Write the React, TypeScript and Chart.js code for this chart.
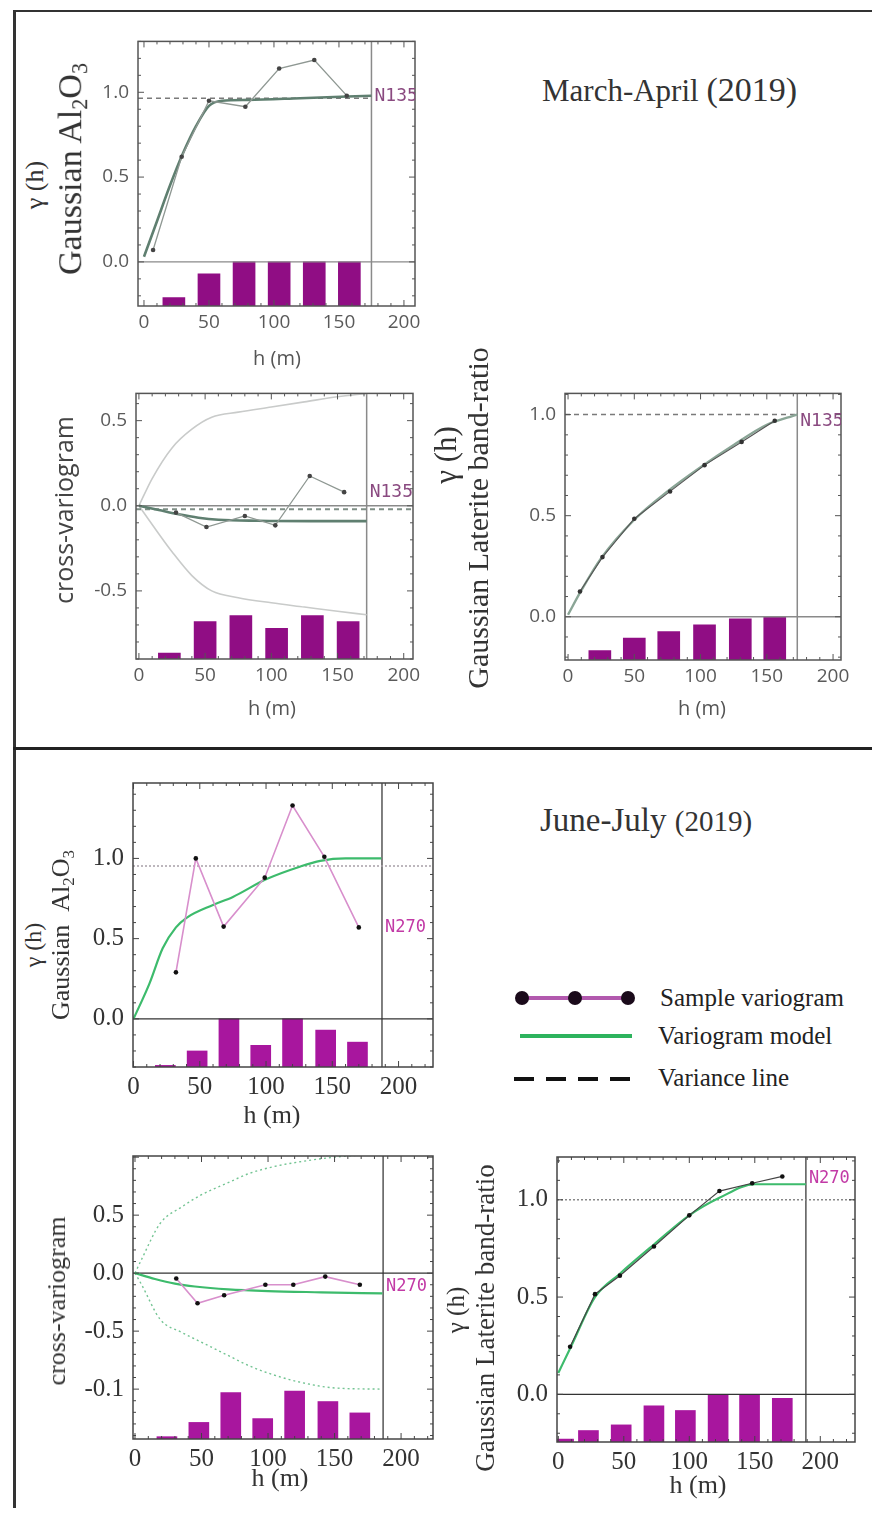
import React, { useEffect, useRef } from "react";
import { Chart, registerables } from "chart.js";
Chart.register(...registerables);

// ---------------- DATA ----------------
const X_TICKS = [0, 50, 100, 150, 200];
const Y_TICKS_STD = [0, 0.5, 1.0];
const Y_TICKS_CROSS_MA = [-0.5, 0, 0.5];
const Y_TICKS_CROSS_JJ = [-1, -0.5, 0, 0.5];
const Y_TICK_LABELS_CROSS_JJ = ["-0.1", "-0.5", "0.0", "0.5"];

const LABEL_MA = "N135";
const LABEL_JJ = "N270";

// March-April, Gaussian Al2O3
const MA_AL_LAG = [7, 29, 50, 78, 104, 131, 156];
const MA_AL_GAMMA = [0.07, 0.62, 0.95, 0.915, 1.14, 1.19, 0.98];
const MA_AL_MODEL_H = [0, 10, 20, 30, 40, 50, 60, 80, 120, 175];
const MA_AL_MODEL_G = [0.03, 0.24, 0.45, 0.64, 0.8, 0.92, 0.95, 0.955, 0.965, 0.98];
const MA_AL_SILL = 0.965;
const MA_AL_BAR_H = [23, 50, 77, 104, 131, 158];
const MA_AL_BAR_TOP = [-0.21, -0.07, 0, 0, 0, 0];
const MA_AL_MAXLAG = 175;

// March-April, cross-variogram
const MA_CR_LAG = [28, 51, 80, 103, 129, 155];
const MA_CR_GAMMA = [-0.04, -0.125, -0.06, -0.115, 0.175, 0.08];
const MA_CR_MODEL_H = [0, 15, 30, 45, 60, 90, 130, 172];
const MA_CR_MODEL_G = [0, -0.025, -0.05, -0.07, -0.082, -0.088, -0.09, -0.09];
const MA_CR_SILL = -0.02;
const MA_CR_ENV_H = [0, 10, 25, 40, 55, 75, 100, 125, 150, 172];
const MA_CR_ENV_UP = [0, 0.16, 0.34, 0.45, 0.52, 0.55, 0.58, 0.61, 0.64, 0.66];
const MA_CR_ENV_LO = [0, -0.11, -0.27, -0.41, -0.5, -0.54, -0.57, -0.595, -0.62, -0.64];
const MA_CR_BAR_H = [23, 50, 77, 104, 131, 158];
const MA_CR_BAR_TOP = [-0.865, -0.68, -0.645, -0.72, -0.645, -0.68];
const MA_CR_MAXLAG = 172;

// March-April, Gaussian Laterite band-ratio
const MA_LT_LAG = [9, 26, 50, 77, 103, 131, 156];
const MA_LT_GAMMA = [0.125, 0.295, 0.485, 0.62, 0.75, 0.865, 0.97];
const MA_LT_MODEL_H = [0, 10, 25, 50, 75, 100, 125, 150, 173];
const MA_LT_MODEL_G = [0.01, 0.13, 0.29, 0.48, 0.62, 0.74, 0.85, 0.95, 1.0];
const MA_LT_SILL = 1.0;
const MA_LT_BAR_H = [24, 50, 76, 103, 130, 156];
const MA_LT_BAR_TOP = [-0.167, -0.105, -0.074, -0.04, -0.01, 0];
const MA_LT_MAXLAG = 173;

// June-July, Gaussian Al2O3
const JJ_AL_LAG = [32, 47, 68, 99, 120, 144, 170];
const JJ_AL_GAMMA = [0.29, 1.0, 0.575, 0.88, 1.33, 1.01, 0.57];
const JJ_AL_MODEL_H = [0, 12, 22, 32, 40, 60, 75, 100, 126, 141, 160, 187];
const JJ_AL_MODEL_G = [0, 0.22, 0.44, 0.57, 0.63, 0.71, 0.76, 0.87, 0.95, 0.985, 1.0, 1.0];
const JJ_AL_SILL = 0.953;
const JJ_AL_BAR_H = [24, 48, 72, 96, 120, 145, 169];
const JJ_AL_BAR_TOP = [-0.29, -0.2, 0, -0.165, 0, -0.07, -0.145];
const JJ_AL_MAXLAG = 187.5;

// June-July, cross-variogram
const JJ_CR_LAG = [31, 47, 67, 98, 119, 143, 169];
const JJ_CR_GAMMA = [-0.046, -0.26, -0.19, -0.1, -0.1, -0.03, -0.1];
const JJ_CR_MODEL_H = [0, 15, 30, 45, 70, 100, 140, 186];
const JJ_CR_MODEL_G = [0, -0.05, -0.09, -0.115, -0.14, -0.155, -0.165, -0.175];
const JJ_CR_ENV_H = [0, 5, 19, 35, 49, 70, 86, 105, 124, 150, 186];
const JJ_CR_ENV_UP = [0, 0.12, 0.43, 0.57, 0.67, 0.78, 0.86, 0.92, 0.96, 1.0, 1.03];
const JJ_CR_ENV_LO = [0, -0.1, -0.4, -0.51, -0.59, -0.71, -0.8, -0.88, -0.94, -0.99, -1.0];
const JJ_CR_BAR_H = [24, 48, 72, 96, 120, 145, 169];
const JJ_CR_BAR_TOP = [-1.41, -1.287, -1.03, -1.254, -1.016, -1.107, -1.205];
const JJ_CR_MAXLAG = 186.5;

// June-July, Gaussian Laterite band-ratio
const JJ_LT_LAG = [9, 28, 47, 73, 100, 123, 148, 171];
const JJ_LT_GAMMA = [0.245, 0.515, 0.61, 0.76, 0.92, 1.045, 1.085, 1.12];
const JJ_LT_MODEL_H = [0, 10, 28, 47, 73, 100, 123, 150, 189];
const JJ_LT_MODEL_G = [0.11, 0.25, 0.5, 0.62, 0.77, 0.92, 1.01, 1.08, 1.08];
const JJ_LT_SILL = 1.0;
const JJ_LT_BAR_H = [4, 23, 48, 73, 97, 122, 146, 171];
const JJ_LT_BAR_TOP = [-0.23, -0.186, -0.157, -0.059, -0.083, 0, 0, -0.02];
const JJ_LT_MAXLAG = 189;

// ---------------- STYLE ----------------
const SERIF = '"Liberation Serif", "DejaVu Serif", serif';
const SANS = '"Open Sans", "Noto Sans", sans-serif';
const MONO = '"DejaVu Sans Mono", "Liberation Mono", monospace';

interface LineSpec {
  xs: number[];
  ys: number[];
  color: string;
  width: number;
  dash?: number[];
  points?: boolean;
  pointColor?: string;
  smooth?: boolean;
  order: number;
}

interface PanelSpec {
  left: number;
  top: number;
  width: number;
  height: number;
  xMin: number;
  xMax: number;
  yMin: number;
  yMax: number;
  yTicks: number[];
  yTickLabels?: string[];
  tickFont: { family: string; size: number };
  tickColor: string;
  xTickPad: number;
  barX: number[];
  barTop: number[];
  barColor: string;
  barWidth: number;
  lines: LineSpec[];
  lag: number;
  lagColor: string;
  zeroColor: string;
  frameColor: string;
  label: string;
  labelY: number;
  labelColor: string;
  labelSize: number;
  yMinorStep: number;
}

const ML = 70,
  MR = 36,
  MT = 10,
  MB = 40;

function framePlugin(s: PanelSpec) {
  return {
    id: "frame",
    afterDatasetsDraw(chart: any) {
      const { ctx, chartArea: a, scales } = chart;
      const x = scales.x;
      const y = scales.y;
      ctx.save();
      ctx.strokeStyle = s.frameColor;
      ctx.lineWidth = 1.5;
      ctx.strokeRect(a.left, a.top, a.right - a.left, a.bottom - a.top);
      ctx.lineWidth = 1;
      const seg = (x1: number, y1: number, x2: number, y2: number) => {
        ctx.beginPath();
        ctx.moveTo(x1, y1);
        ctx.lineTo(x2, y2);
        ctx.stroke();
      };
      const x0 = Math.ceil(s.xMin / 10);
      const x1 = Math.floor(s.xMax / 10);
      for (let k = x0; k <= x1; k++) {
        const v = k * 10;
        const px = x.getPixelForValue(v);
        const len = v % 50 === 0 ? 6 : 3;
        seg(px, a.bottom, px, a.bottom - len);
        seg(px, a.top, px, a.top + len);
      }
      const y0 = Math.ceil(s.yMin / s.yMinorStep - 1e-6);
      const y1 = Math.floor(s.yMax / s.yMinorStep + 1e-6);
      for (let k = y0; k <= y1; k++) {
        const v = k * s.yMinorStep;
        const py = y.getPixelForValue(v);
        const major = Math.abs(v * 2 - Math.round(v * 2)) < 1e-6;
        const len = major ? 6 : 3;
        seg(a.left, py, a.left + len, py);
        seg(a.right, py, a.right - len, py);
      }
      ctx.beginPath();
      ctx.rect(a.left, a.top, a.right - a.left, a.bottom - a.top);
      ctx.clip();
      ctx.fillStyle = s.labelColor;
      ctx.font = `${s.labelSize}px ${MONO}`;
      ctx.textBaseline = "middle";
      ctx.textAlign = "left";
      ctx.fillText(s.label, x.getPixelForValue(s.lag) + 3, y.getPixelForValue(s.labelY));
      ctx.restore();
    },
  };
}

function Panel({ spec }: { spec: PanelSpec }) {
  const ref = useRef<HTMLCanvasElement>(null);
  const W = spec.width + ML + MR;
  const H = spec.height + MT + MB;
  useEffect(() => {
    const s = spec;
    const datasets: any[] = [];
    datasets.push({
      type: "bar",
      data: s.barX.map((x, i) => ({ x, y: [s.yMin, s.barTop[i]] })),
      backgroundColor: s.barColor,
      borderWidth: 0,
      barThickness: s.barWidth,
      order: 10,
    });
    datasets.push({
      type: "line",
      data: [
        { x: s.xMin, y: 0 },
        { x: s.xMax, y: 0 },
      ],
      borderColor: s.zeroColor,
      borderWidth: 1.3,
      pointRadius: 0,
      order: 9,
    });
    datasets.push({
      type: "line",
      data: [
        { x: s.lag, y: s.yMin },
        { x: s.lag, y: s.yMax },
      ],
      borderColor: s.lagColor,
      borderWidth: 1.5,
      pointRadius: 0,
      order: 9,
    });
    s.lines.forEach((l) =>
      datasets.push({
        type: "line",
        data: l.xs.map((x, i) => ({ x, y: l.ys[i] })),
        borderColor: l.color,
        borderWidth: l.width,
        borderDash: l.dash || [],
        pointRadius: l.points ? 2.3 : 0,
        pointBackgroundColor: l.pointColor || "#000",
        pointBorderWidth: 0,
        cubicInterpolationMode: l.smooth ? "monotone" : "default",
        tension: 0,
        order: l.order,
      })
    );
    const chart = new Chart(ref.current as HTMLCanvasElement, {
      type: "line",
      data: { datasets },
      options: {
        animation: false,
        responsive: false,
        maintainAspectRatio: false,
        devicePixelRatio: 1,
        layout: { padding: { left: 0, top: MT, right: MR, bottom: 0 } },
        plugins: { legend: { display: false }, tooltip: { enabled: false } },
        scales: {
          x: {
            type: "linear",
            min: s.xMin,
            max: s.xMax,
            offset: false,
            grid: { display: false, drawTicks: false },
            border: { display: false },
            afterBuildTicks: (sc: any) => {
              sc.ticks = X_TICKS.map((v) => ({ value: v }));
            },
            afterFit: (sc: any) => {
              sc.height = MB;
            },
            ticks: {
              font: s.tickFont,
              color: s.tickColor,
              padding: s.xTickPad,
              maxRotation: 0,
              autoSkip: false,
              callback: (v: any) => String(v),
            },
          },
          y: {
            type: "linear",
            min: s.yMin,
            max: s.yMax,
            grid: { display: false, drawTicks: false },
            border: { display: false },
            afterBuildTicks: (sc: any) => {
              sc.ticks = s.yTicks.map((v) => ({ value: v }));
            },
            afterFit: (sc: any) => {
              sc.width = ML;
            },
            ticks: {
              font: s.tickFont,
              color: s.tickColor,
              padding: 9,
              autoSkip: false,
              callback: (v: any, i: number) =>
                s.yTickLabels ? s.yTickLabels[i] : Number(v).toFixed(1),
            },
          },
        },
      } as any,
      plugins: [framePlugin(s)],
    });
    return () => chart.destroy();
  }, [spec]);
  return (
    <canvas
      ref={ref}
      width={W}
      height={H}
      style={{ position: "absolute", left: spec.left - ML, top: spec.top - MT, width: W, height: H }}
    />
  );
}

// ------------- panel specs built from the data -------------
const TOP_TICK_FONT = { family: SANS, size: 19 };
const BOT_TICK_FONT = { family: SERIF, size: 25 };
const TOP_BAR = "#900d84";
const BOT_BAR = "#a8169e";
const TOP_MODEL = "#5f7f70";
const TOP_SAMPLE = "#8f9893";
const BOT_MODEL = "#3dbb6c";
const BOT_SAMPLE = "#d88fcc";

const topCommon = {
  tickFont: TOP_TICK_FONT,
  tickColor: "#5a5a5a",
  xTickPad: 5,
  barColor: TOP_BAR,
  barWidth: 22,
  lagColor: "#8a8a8a",
  zeroColor: "#8a8a8a",
  frameColor: "#555",
  label: LABEL_MA,
  labelColor: "#8a4a80",
  labelSize: 18,
};
const botCommon = {
  tickFont: BOT_TICK_FONT,
  tickColor: "#333",
  xTickPad: 5,
  barColor: BOT_BAR,
  barWidth: 20,
  lagColor: "#555",
  zeroColor: "#333",
  frameColor: "#444",
  label: LABEL_JJ,
  labelColor: "#c23aa6",
  labelSize: 17,
};

const P1: PanelSpec = {
  ...topCommon,
  left: 138, top: 31, width: 277, height: 275,
  xMin: -4.6, xMax: 208.5, yMin: -0.26, yMax: 1.3,
  yTicks: Y_TICKS_STD, yMinorStep: 0.1,
  barX: MA_AL_BAR_H, barTop: MA_AL_BAR_TOP,
  lag: MA_AL_MAXLAG, labelY: 0.975,
  lines: [
    { xs: [-4.6, MA_AL_MAXLAG], ys: [MA_AL_SILL, MA_AL_SILL], color: "#7a7a7a", width: 1.5, dash: [5, 4], order: 3 },
    { xs: MA_AL_MODEL_H, ys: MA_AL_MODEL_G, color: TOP_MODEL, width: 2.6, smooth: true, order: 2 },
    { xs: MA_AL_LAG, ys: MA_AL_GAMMA, color: TOP_SAMPLE, width: 1.3, points: true, pointColor: "#444", order: 1 },
  ],
};

const P2: PanelSpec = {
  ...topCommon,
  left: 136, top: 383, width: 277, height: 276,
  xMin: -2.2, xMax: 207, yMin: -0.9, yMax: 0.66,
  yTicks: Y_TICKS_CROSS_MA, yMinorStep: 0.1,
  barX: MA_CR_BAR_H, barTop: MA_CR_BAR_TOP,
  lag: MA_CR_MAXLAG, labelY: 0.08,
  lines: [
    { xs: MA_CR_ENV_H, ys: MA_CR_ENV_UP, color: "#c9cbca", width: 1.6, smooth: true, order: 4 },
    { xs: MA_CR_ENV_H, ys: MA_CR_ENV_LO, color: "#c9cbca", width: 1.6, smooth: true, order: 4 },
    { xs: [-2.2, 207], ys: [MA_CR_SILL, MA_CR_SILL], color: "#7f8f86", width: 2, dash: [5, 4], order: 3 },
    { xs: MA_CR_MODEL_H, ys: MA_CR_MODEL_G, color: TOP_MODEL, width: 2.6, smooth: true, order: 2 },
    { xs: MA_CR_LAG, ys: MA_CR_GAMMA, color: TOP_SAMPLE, width: 1.3, points: true, pointColor: "#444", order: 1 },
  ],
};

const P3: PanelSpec = {
  ...topCommon,
  left: 565, top: 383, width: 276, height: 277,
  xMin: -2.3, xMax: 206, yMin: -0.214, yMax: 1.105,
  yTicks: Y_TICKS_STD, yMinorStep: 0.1,
  barX: MA_LT_BAR_H, barTop: MA_LT_BAR_TOP,
  lag: MA_LT_MAXLAG, labelY: 0.967,
  lines: [
    { xs: [-2.3, MA_LT_MAXLAG], ys: [MA_LT_SILL, MA_LT_SILL], color: "#7a7a7a", width: 1.5, dash: [5, 4], order: 3 },
    { xs: MA_LT_MODEL_H, ys: MA_LT_MODEL_G, color: "#8aa596", width: 2.4, smooth: true, order: 2 },
    { xs: MA_LT_LAG, ys: MA_LT_GAMMA, color: "#555", width: 1.1, points: true, pointColor: "#333", order: 1 },
  ],
};

const P4: PanelSpec = {
  ...botCommon,
  left: 133, top: 769, width: 300, height: 298,
  xMin: -0.4, xMax: 226, yMin: -0.3, yMax: 1.47,
  yTicks: Y_TICKS_STD, yMinorStep: 0.1,
  barX: JJ_AL_BAR_H, barTop: JJ_AL_BAR_TOP,
  lag: JJ_AL_MAXLAG, labelY: 0.57,
  lines: [
    { xs: [-0.4, 226], ys: [JJ_AL_SILL, JJ_AL_SILL], color: "#a8a0a8", width: 1.4, dash: [2, 2], order: 3 },
    { xs: JJ_AL_MODEL_H, ys: JJ_AL_MODEL_G, color: BOT_MODEL, width: 2.2, smooth: true, order: 2 },
    { xs: JJ_AL_LAG, ys: JJ_AL_GAMMA, color: BOT_SAMPLE, width: 1.6, points: true, pointColor: "#111", order: 1 },
  ],
};

const P5: PanelSpec = {
  ...botCommon,
  left: 133, top: 1142, width: 300, height: 297,
  xMin: -1.5, xMax: 224, yMin: -1.43, yMax: 1.01,
  yTicks: Y_TICKS_CROSS_JJ, yTickLabels: Y_TICK_LABELS_CROSS_JJ, yMinorStep: 0.1,
  barX: JJ_CR_BAR_H, barTop: JJ_CR_BAR_TOP,
  lag: JJ_CR_MAXLAG, labelY: -0.115,
  lines: [
    { xs: JJ_CR_ENV_H, ys: JJ_CR_ENV_UP, color: "#73c493", width: 1.4, dash: [2, 3], smooth: true, order: 4 },
    { xs: JJ_CR_ENV_H, ys: JJ_CR_ENV_LO, color: "#73c493", width: 1.4, dash: [2, 3], smooth: true, order: 4 },
    { xs: JJ_CR_MODEL_H, ys: JJ_CR_MODEL_G, color: BOT_MODEL, width: 2.2, smooth: true, order: 2 },
    { xs: JJ_CR_LAG, ys: JJ_CR_GAMMA, color: BOT_SAMPLE, width: 1.6, points: true, pointColor: "#111", order: 1 },
  ],
};

const P6: PanelSpec = {
  ...botCommon,
  left: 557, top: 1143, width: 298, height: 299,
  xMin: -1, xMax: 226.5, yMin: -0.245, yMax: 1.22,
  yTicks: Y_TICKS_STD, yMinorStep: 0.1,
  barX: JJ_LT_BAR_H, barTop: JJ_LT_BAR_TOP,
  lag: JJ_LT_MAXLAG, labelY: 1.11,
  lines: [
    { xs: [-1, 226.5], ys: [JJ_LT_SILL, JJ_LT_SILL], color: "#888", width: 1.4, dash: [2, 2], order: 3 },
    { xs: JJ_LT_MODEL_H, ys: JJ_LT_MODEL_G, color: BOT_MODEL, width: 2.2, smooth: true, order: 2 },
    { xs: JJ_LT_LAG, ys: JJ_LT_GAMMA, color: "#444", width: 1.2, points: true, pointColor: "#111", order: 1 },
  ],
};

// ------------- HTML text helpers -------------
function RotText({ cx, cy, size, family, color, children }: any) {
  return (
    <div
      style={{
        position: "absolute",
        left: cx,
        top: cy,
        transform: "translate(-50%, -50%) rotate(-90deg)",
        whiteSpace: "nowrap",
        fontSize: size,
        fontFamily: family,
        color,
        lineHeight: 1,
      }}
    >
      {children}
    </div>
  );
}

function Text({ cx, cy, size, family, color, children, align }: any) {
  return (
    <div
      style={{
        position: "absolute",
        left: cx,
        top: cy,
        transform: align === "left" ? "translate(0, -50%)" : "translate(-50%, -50%)",
        whiteSpace: "nowrap",
        fontSize: size,
        fontFamily: family,
        color,
        lineHeight: 1,
      }}
    >
      {children}
    </div>
  );
}

const subStyle = { fontSize: "0.65em", verticalAlign: "-0.25em" };
const AlO = (
  <>
    Al<span style={subStyle}>2</span>O<span style={subStyle}>3</span>
  </>
);

export default function App() {
  return (
    <div
      style={{
        position: "absolute",
        left: 0,
        top: 0,
        width: 872,
        height: 1513,
        background: "#fff",
        overflow: "hidden",
      }}
    >
      {/* frame */}
      <div style={{ position: "absolute", left: 13, top: 10, width: 859, height: 2, background: "#333" }} />
      <div style={{ position: "absolute", left: 13, top: 10, width: 2.5, height: 1498, background: "#333" }} />
      <div style={{ position: "absolute", left: 13, top: 747, width: 859, height: 3, background: "#222" }} />

      <Panel spec={P1} />
      <Panel spec={P2} />
      <Panel spec={P3} />
      <Panel spec={P4} />
      <Panel spec={P5} />
      <Panel spec={P6} />

      {/* titles */}
      <div style={{ position: "absolute", left: 542, top: 71, whiteSpace: "nowrap", fontFamily: SERIF, color: "#333" }}>
        <span style={{ fontSize: 31 }}>March-April </span>
        <span style={{ fontSize: 34 }}>(2019)</span>
      </div>
      <div style={{ position: "absolute", left: 540, top: 802, whiteSpace: "nowrap", fontFamily: SERIF, color: "#333" }}>
        <span style={{ fontSize: 33 }}>June-July </span>
        <span style={{ fontSize: 29 }}>(2019)</span>
      </div>

      {/* y axis titles */}
      <RotText cx={35} cy={185} size={26} family={SERIF} color="#333">γ (h)</RotText>
      <RotText cx={72} cy={169} size={34} family={SERIF} color="#333">Gaussian {AlO}</RotText>
      <RotText cx={63} cy={510} size={25} family={SANS} color="#444">cross-variogram</RotText>
      <RotText cx={445} cy={455} size={31} family={SERIF} color="#333">γ (h)</RotText>
      <RotText cx={478} cy={518} size={30} family={SERIF} color="#333">Gaussian Laterite band-ratio</RotText>
      <RotText cx={33} cy={945} size={24} family={SERIF} color="#333">γ (h)</RotText>
      <RotText cx={63} cy={935} size={26} family={SERIF} color="#333">Gaussian&nbsp;&nbsp;{AlO}</RotText>
      <RotText cx={57} cy={1301} size={26} family={SERIF} color="#333">cross-variogram</RotText>
      <RotText cx={455} cy={1310} size={25} family={SERIF} color="#333">γ (h)</RotText>
      <RotText cx={485} cy={1318} size={27} family={SERIF} color="#333">Gaussian Laterite band-ratio</RotText>

      {/* x axis titles */}
      <Text cx={277} cy={358} size={20} family={SANS} color="#555">h (m)</Text>
      <Text cx={272} cy={708} size={20} family={SANS} color="#555">h (m)</Text>
      <Text cx={702} cy={708} size={20} family={SANS} color="#555">h (m)</Text>
      <Text cx={272} cy={1115} size={26} family={SERIF} color="#333">h (m)</Text>
      <Text cx={280} cy={1478} size={26} family={SERIF} color="#333">h (m)</Text>
      <Text cx={698} cy={1485} size={26} family={SERIF} color="#333">h (m)</Text>

      {/* legend */}
      <div style={{ position: "absolute", left: 522, top: 996, width: 106, height: 4, background: "#b259ae" }} />
      {[522, 575, 628].map((x) => (
        <div
          key={x}
          style={{ position: "absolute", left: x - 7, top: 991, width: 14, height: 14, borderRadius: 7, background: "#1a0a1a" }}
        />
      ))}
      <div style={{ position: "absolute", left: 520, top: 1034, width: 112, height: 4, background: "#2db35d" }} />
      {[514, 546, 578, 610].map((x) => (
        <div key={x} style={{ position: "absolute", left: x, top: 1077, width: 20, height: 4, background: "#111" }} />
      ))}
      <Text cx={660} cy={997} size={25} family={SERIF} color="#222" align="left">Sample variogram</Text>
      <Text cx={658} cy={1035} size={25} family={SERIF} color="#222" align="left">Variogram model</Text>
      <Text cx={658} cy={1077} size={25} family={SERIF} color="#222" align="left">Variance line</Text>
    </div>
  );
}
